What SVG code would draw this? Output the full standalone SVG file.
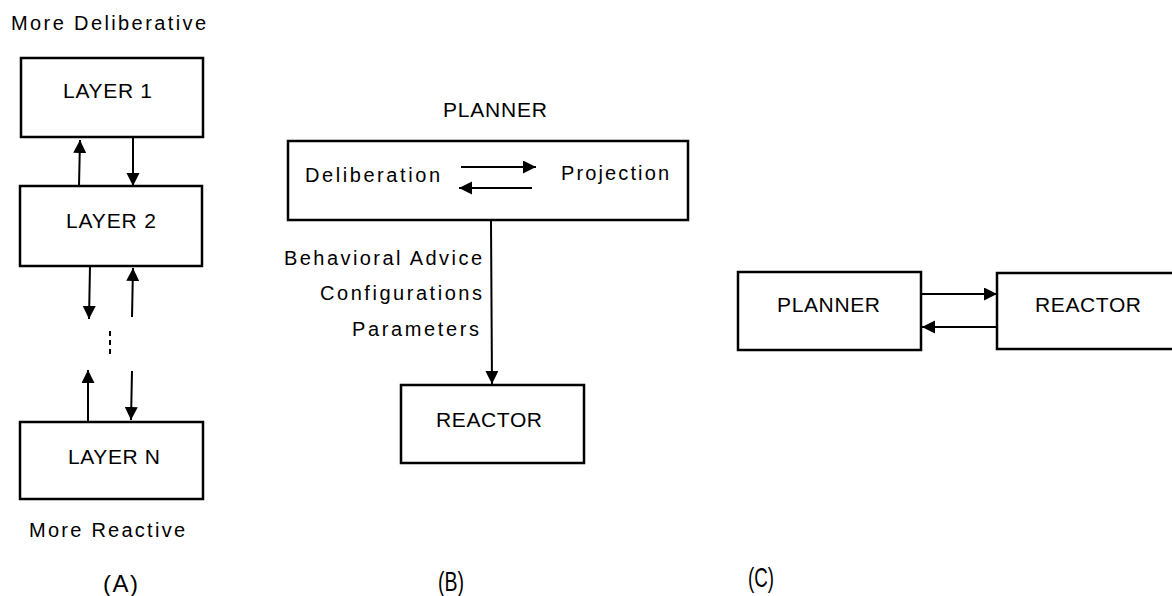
<svg xmlns="http://www.w3.org/2000/svg" width="1172" height="596" viewBox="0 0 1172 596">
  <defs>
    <marker id="arrow" markerUnits="userSpaceOnUse" markerWidth="14" markerHeight="14" refX="13" refY="6.5" orient="auto">
      <path d="M0,0 L13,6.5 L0,13 z" fill="#000"/>
    </marker>
    <style>
      .box { fill: #fff; stroke: #000; stroke-width: 2.5; }
      .lbl { font-family: "Liberation Sans", Arial, Helvetica, sans-serif; fill: #000; }
      .edge { fill: none; stroke: #000; stroke-width: 2; marker-end: url(#arrow); }
      .dots { fill: none; stroke: #000; stroke-width: 2; stroke-dasharray: 5 4; }
    </style>
  </defs>
  <rect width="1172" height="596" fill="#fff"/>

  <!-- (A) layered architecture -->
  <text class="lbl" x="11" y="30" font-size="20" textLength="195">More Deliberative</text>
  <g id="layer1">
    <rect class="box" x="21" y="58" width="182" height="79"/>
    <text class="lbl" x="63" y="98" font-size="21" textLength="89">LAYER 1</text>
  </g>
  <g id="layer2">
    <rect class="box" x="20" y="186" width="182" height="80"/>
    <text class="lbl" x="66" y="228" font-size="21" textLength="90">LAYER 2</text>
  </g>
  <g id="layerN">
    <rect class="box" x="20" y="422" width="183" height="77"/>
    <text class="lbl" x="68" y="464" font-size="21" textLength="92">LAYER N</text>
  </g>
  <text class="lbl" x="29" y="537" font-size="20" textLength="156">More Reactive</text>
  <text class="lbl" x="103" y="592" font-size="24" textLength="35">(A)</text>

  <!-- (B) planner advising a reactor -->
  <text class="lbl" x="443" y="117" font-size="21" textLength="104">PLANNER</text>
  <g id="planner-b">
    <rect class="box" x="288" y="141" width="400" height="79"/>
    <text class="lbl" x="305" y="182" font-size="20" textLength="135">Deliberation</text>
    <text class="lbl" x="561" y="180" font-size="20" textLength="108">Projection</text>
  </g>
  <g id="reactor-b">
    <rect class="box" x="401" y="385" width="183" height="78"/>
    <text class="lbl" x="436" y="427" font-size="21" textLength="106">REACTOR</text>
  </g>
  <g id="advice-labels">
    <text class="lbl" x="284" y="265" font-size="20" textLength="198">Behavioral Advice</text>
    <text class="lbl" x="320" y="300" font-size="20" textLength="162">Configurations</text>
    <text class="lbl" x="352" y="336" font-size="20" textLength="127">Parameters</text>
  </g>
  <text class="lbl" x="438" y="591" font-size="28" textLength="26" lengthAdjust="spacingAndGlyphs">(B)</text>

  <!-- (C) peer planner and reactor -->
  <g id="planner-c">
    <rect class="box" x="738" y="272" width="183" height="78"/>
    <text class="lbl" x="777" y="312" font-size="21" textLength="103">PLANNER</text>
  </g>
  <g id="reactor-c">
    <rect class="box" x="997" y="273" width="190" height="76"/>
    <text class="lbl" x="1035" y="312" font-size="21" textLength="106">REACTOR</text>
  </g>
  <text class="lbl" x="748" y="587" font-size="28" textLength="26" lengthAdjust="spacingAndGlyphs">(C)</text>

  <!-- connectors -->
  <g id="connectors">
    <line class="edge" x1="79" y1="186" x2="80" y2="140"/>
    <line class="edge" x1="133" y1="137" x2="133" y2="186"/>
    <line class="edge" x1="90" y1="266" x2="89" y2="319"/>
    <line class="edge" x1="132" y1="317" x2="133" y2="268"/>
    <line class="dots" x1="110" y1="331" x2="110" y2="356"/>
    <line class="edge" x1="88" y1="422" x2="88" y2="370"/>
    <line class="edge" x1="132" y1="371" x2="131" y2="420"/>

    <line class="edge" x1="461" y1="167" x2="536" y2="167"/>
    <line class="edge" x1="532" y1="188" x2="459" y2="188"/>
    <line class="edge" x1="491" y1="221" x2="492" y2="384"/>

    <line class="edge" x1="921" y1="294" x2="997" y2="294"/>
    <line class="edge" x1="997" y1="327" x2="922" y2="327"/>
  </g>
</svg>
